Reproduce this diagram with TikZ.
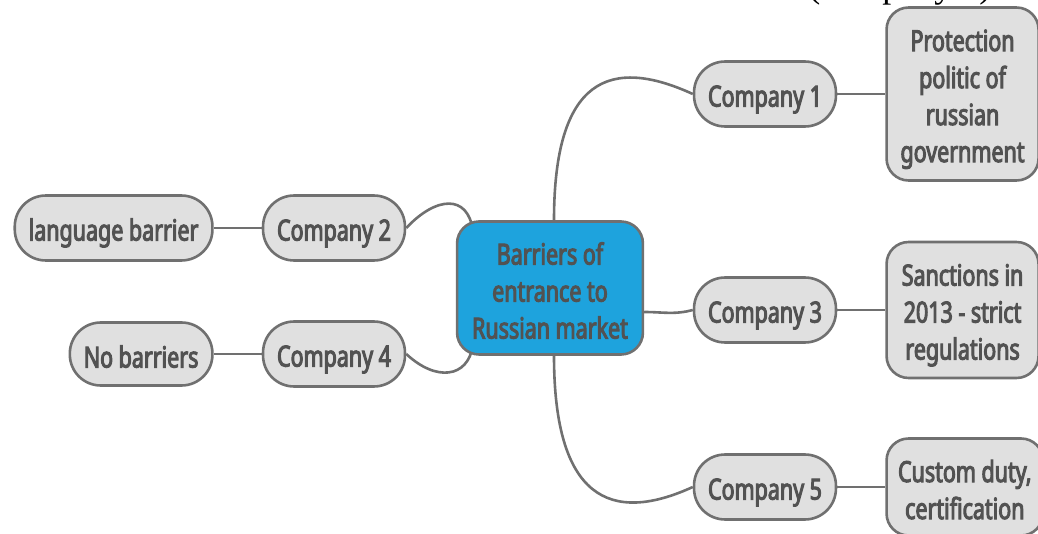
\documentclass[tikz,border=0pt]{standalone}
\usepackage{fontspec}
\setmainfont{Noto Sans}[FakeStretch=0.74, BoldFont={Noto Sans}, BoldFeatures={FakeBold=3.5}]
\newfontfamily\capserif{Liberation Serif}
\usepackage{tikz}
\usetikzlibrary{positioning,backgrounds}
\definecolor{hubblue}{RGB}{30,163,221}
\definecolor{boxgray}{RGB}{224,224,224}
\definecolor{edgegray}{RGB}{112,112,112}
\definecolor{textgray}{RGB}{82,82,82}
% one line of box text: 32pt above the baseline, 5pt below
\newcommand{\ls}{\rule[-5pt]{0pt}{37pt}}

\begin{document}
\begin{tikzpicture}[
  x=1pt, y=-1pt,
  font=\fontsize{29}{37}\selectfont\bfseries,
  every node/.style={text=textgray, draw=edgegray, line width=2.6pt, align=center,
    execute at end node=\ls},
  hub/.style={fill=hubblue, rounded corners=22pt, inner xsep=15pt, inner ysep=11pt},
  pill/.style={fill=boxgray, rounded corners=31pt, inner xsep=14pt, inner ysep=13pt},
  leaf/.style={fill=boxgray, rounded corners=22pt, inner sep=11.5pt, minimum width=152pt},
  link/.style={draw=edgegray, line width=2.6pt},
  node distance=48pt]
\useasboundingbox (0,0) rectangle (1038,534);
% --- centre ---
\node[hub] (hub) at (550,288) {\ls Barriers of\\entrance to\\Russian market};
% --- right branch ---
\node[pill] (c1) at (765,94) {\ls Company 1};
\node[leaf, right=of c1] (r1) {\ls Protection\\politic of\\russian\\government};
\node[pill] (c3) at (765,310) {\ls Company 3};
\node[leaf, right=of c3] (r3) {\ls Sanctions in\\2013 - strict\\regulations};
\node[pill] (c5) at (765,487) {\ls Company 5};
\node[leaf, right=of c5] (r5) {\ls Custom duty,\\certification};
% --- left branch ---
\node[pill] (c2) at (334,228) {\ls Company 2};
\node[pill, left=of c2] (l2) {\ls language barrier};
\node[pill] (c4) at (334,354) {\ls Company 4};
\node[pill, left=of c4] (l4) {\ls No barriers};
% caption running in from above
\node[draw=none, text=black, font=\capserif\fontsize{36}{40}\selectfont,
  anchor=base west, inner sep=0pt] (cap) at (807,-2) {(company 1)};
% --- connectors ---
\begin{scope}[on background layer]
\draw[link] ([xshift=4pt]hub.north) .. controls +(0,-142) and +(-83,-38) .. (c1.west);
\draw[link] ([yshift=-24pt]hub.east) to[out=0, in=195] (c3.west);
\draw[link] ([xshift=4pt]hub.south) .. controls +(0,142) and +(-83,38) .. (c5.west);
\draw[link] (c2.east) .. controls +(30,-32) and +(-5,-36) .. ([shift={(17pt,-10pt)}]hub.north west);
\draw[link] (c4.east) .. controls +(30,28) and +(-5,32) .. ([shift={(17pt,10pt)}]hub.south west);
\draw[link] (c1) -- (r1);
\draw[link] (c3) -- (r3);
\draw[link] (c5) -- (r5);
\draw[link] (c2) -- (l2);
\draw[link] (c4) -- (l4);
\end{scope}
\end{tikzpicture}
\end{document}
